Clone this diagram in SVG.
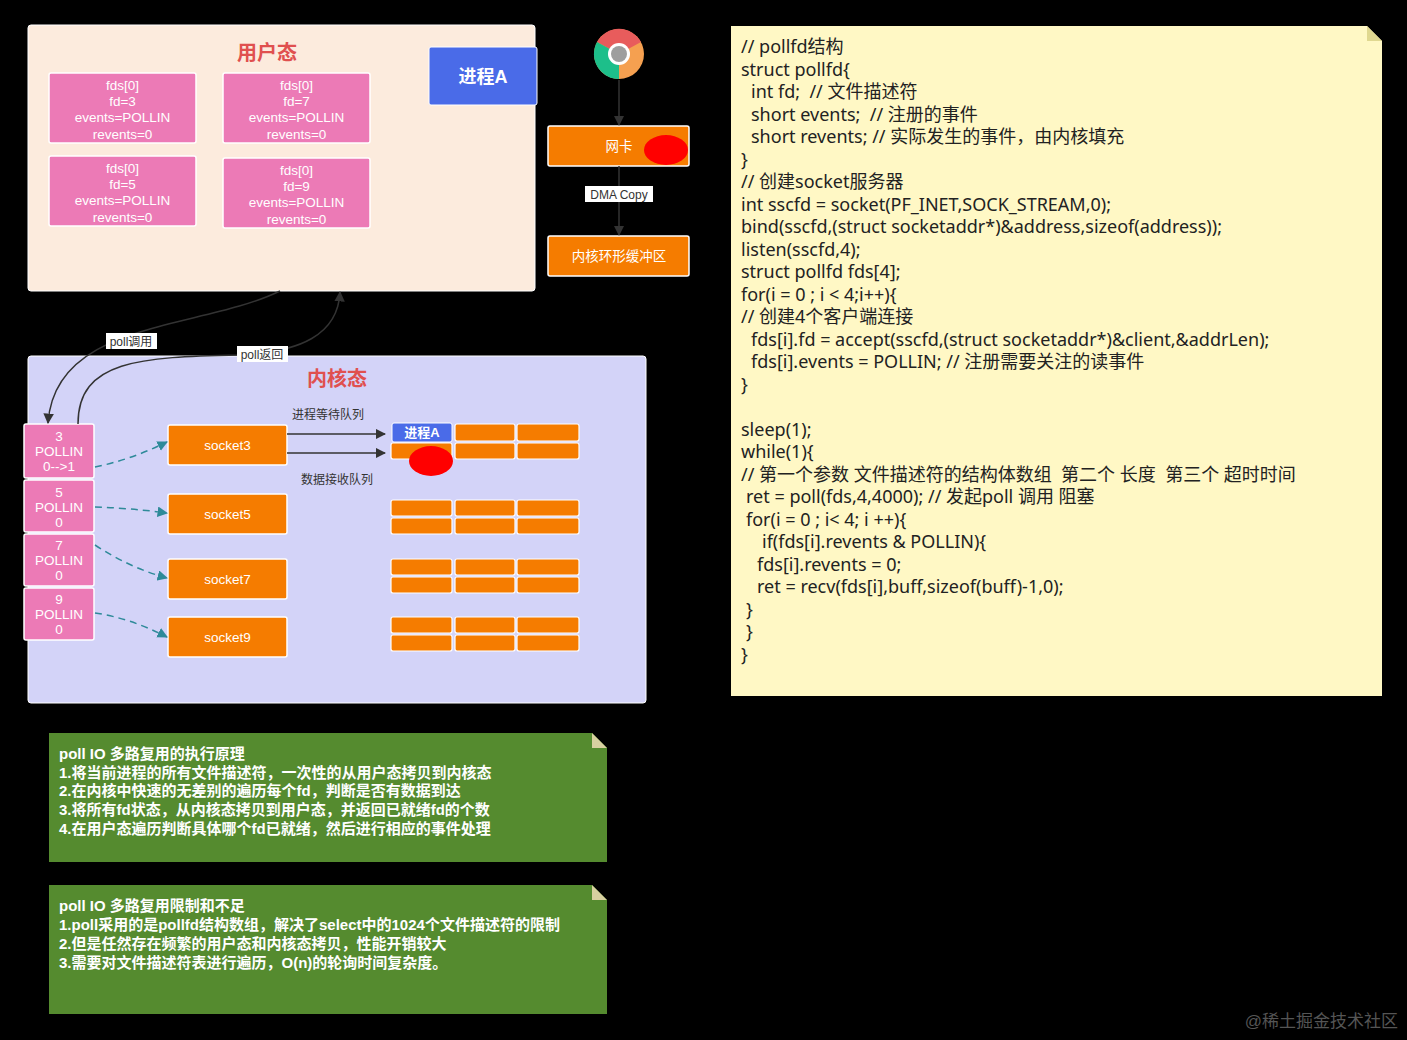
<svg xmlns="http://www.w3.org/2000/svg" width="1407" height="1040" viewBox="0 0 1407 1040">
<defs>
<style>
text{font-family:"Liberation Sans","Noto Sans CJK SC",sans-serif}
.w{fill:#fff;font-size:13.5px;text-anchor:middle}
.pk{fill:#EC7AB6;stroke:#fff;stroke-width:1.5}
.or{fill:#F57C00;stroke:#fff;stroke-width:1.5}
.cell{fill:#F57C00;stroke:#fff;stroke-width:1.2}
.title{fill:#E0504F;font-size:20px;font-weight:bold;text-anchor:middle}
.lbl{fill:#333;font-size:12px;text-anchor:middle}
.code{fill:#222;font-size:18px;font-family:"Noto Sans","Noto Sans CJK SC",sans-serif;white-space:pre}
.note{fill:#fff;font-size:15px;font-weight:bold}
.dash{stroke:#2E8A99;stroke-width:1.5;stroke-dasharray:7 5;fill:none}
.ln{stroke:#333;stroke-width:1.5;fill:none}
</style>
<marker id="ar" viewBox="0 0 10 10" refX="9" refY="5" markerWidth="7" markerHeight="7" orient="auto"><path d="M0,0 L10,5 L0,10 z" fill="#333"/></marker>
<marker id="at" viewBox="0 0 10 10" refX="9" refY="5" markerWidth="7" markerHeight="7" orient="auto"><path d="M0,0 L10,5 L0,10 z" fill="#2E8A99"/></marker>
</defs>
<rect width="1407" height="1040" fill="#000"/>

<g id="user">
<rect x="28" y="25" width="507" height="266" rx="3" fill="#FCEBDD" stroke="#fff"/>
<text x="267" y="60" class="title">用户态</text>
</g>
<g id="fd3"><rect x="49" y="73" width="147" height="70" rx="2" class="pk"/><text class="w" x="122.5" y="90">fds[0]</text><text class="w" x="122.5" y="106">fd=3</text><text class="w" x="122.5" y="122">events=POLLIN</text><text class="w" x="122.5" y="139">revents=0</text></g>
<g id="fd7"><rect x="223" y="73" width="147" height="70" rx="2" class="pk"/><text class="w" x="296.5" y="90">fds[0]</text><text class="w" x="296.5" y="106">fd=7</text><text class="w" x="296.5" y="122">events=POLLIN</text><text class="w" x="296.5" y="139">revents=0</text></g>
<g id="fd5"><rect x="49" y="156" width="147" height="70" rx="2" class="pk"/><text class="w" x="122.5" y="173">fds[0]</text><text class="w" x="122.5" y="189">fd=5</text><text class="w" x="122.5" y="205">events=POLLIN</text><text class="w" x="122.5" y="222">revents=0</text></g>
<g id="fd9"><rect x="223" y="158" width="147" height="70" rx="2" class="pk"/><text class="w" x="296.5" y="175">fds[0]</text><text class="w" x="296.5" y="191">fd=9</text><text class="w" x="296.5" y="207">events=POLLIN</text><text class="w" x="296.5" y="224">revents=0</text></g>
<g id="procA"><rect x="429" y="47" width="108" height="58" rx="2" fill="#4A6BE8" stroke="#fff"/><text x="483" y="83" fill="#fff" font-size="18" font-weight="bold" text-anchor="middle">进程A</text></g>

<g id="chrome">
<circle cx="619" cy="54" r="25" fill="#F5A050"/>
<path d="M619,54 L597,42 A25,25 0 0 1 641,42 Z" fill="#E85C5C"/>
<path d="M619,54 L597,42 A25,25 0 0 0 619,79 Z" fill="#1DBF8A"/>
<circle cx="619" cy="54" r="11" fill="#fff"/>
<circle cx="619" cy="54" r="8" fill="#9E9E9E"/>
</g>
<g id="nic"><rect x="548" y="126" width="141" height="40" rx="2" class="or"/><text class="w" x="619" y="151">网卡</text><ellipse cx="666" cy="150" rx="22" ry="15" fill="#F00"/></g>
<g id="ring"><rect x="548" y="236" width="141" height="40" rx="2" class="or"/><text class="w" x="619" y="261">内核环形缓冲区</text></g>

<g id="kernel">
<rect x="28" y="356" width="618" height="347" rx="3" fill="#D3D3F8" stroke="#fff"/>
<text x="337" y="386" class="title">内核态</text>
<text x="328" y="419" class="lbl">进程等待队列</text>
<text x="337" y="484" class="lbl">数据接收队列</text>
</g>
<g id="k3"><rect x="24" y="424" width="70" height="54" rx="2" class="pk"/><text class="w" x="59" y="441" font-size="12">3</text><text class="w" x="59" y="456" font-size="12">POLLIN</text><text class="w" x="59" y="471" font-size="12">0--&gt;1</text></g>
<g id="k5"><rect x="24" y="480" width="70" height="52" rx="2" class="pk"/><text class="w" x="59" y="497" font-size="12">5</text><text class="w" x="59" y="512" font-size="12">POLLIN</text><text class="w" x="59" y="527" font-size="12">0</text></g>
<g id="k7"><rect x="24" y="534" width="70" height="52" rx="2" class="pk"/><text class="w" x="59" y="550" font-size="12">7</text><text class="w" x="59" y="565" font-size="12">POLLIN</text><text class="w" x="59" y="580" font-size="12">0</text></g>
<g id="k9"><rect x="24" y="588" width="70" height="52" rx="2" class="pk"/><text class="w" x="59" y="604" font-size="12">9</text><text class="w" x="59" y="619" font-size="12">POLLIN</text><text class="w" x="59" y="634" font-size="12">0</text></g>
<g id="s3"><rect x="168" y="425" width="119" height="40" rx="2" class="or"/><text class="w" x="227.5" y="450">socket3</text></g>
<g id="s5"><rect x="168" y="494" width="119" height="40" rx="2" class="or"/><text class="w" x="227.5" y="519">socket5</text></g>
<g id="s7"><rect x="168" y="559" width="119" height="40" rx="2" class="or"/><text class="w" x="227.5" y="584">socket7</text></g>
<g id="s9"><rect x="168" y="617" width="119" height="40" rx="2" class="or"/><text class="w" x="227.5" y="642">socket9</text></g>

<g id="queues">
<rect x="391" y="443" width="61" height="16" rx="2" class="cell"/>
<rect x="455" y="424" width="60" height="17" rx="2" class="cell"/><rect x="517" y="424" width="62" height="17" rx="2" class="cell"/>
<rect x="455" y="443" width="60" height="16" rx="2" class="cell"/><rect x="517" y="443" width="62" height="16" rx="2" class="cell"/>
<rect x="391" y="500" width="61" height="16" rx="2" class="cell"/><rect x="455" y="500" width="60" height="16" rx="2" class="cell"/><rect x="517" y="500" width="62" height="16" rx="2" class="cell"/>
<rect x="391" y="518" width="61" height="16" rx="2" class="cell"/><rect x="455" y="518" width="60" height="16" rx="2" class="cell"/><rect x="517" y="518" width="62" height="16" rx="2" class="cell"/>
<rect x="391" y="559" width="61" height="16" rx="2" class="cell"/><rect x="455" y="559" width="60" height="16" rx="2" class="cell"/><rect x="517" y="559" width="62" height="16" rx="2" class="cell"/>
<rect x="391" y="577" width="61" height="16" rx="2" class="cell"/><rect x="455" y="577" width="60" height="16" rx="2" class="cell"/><rect x="517" y="577" width="62" height="16" rx="2" class="cell"/>
<rect x="391" y="617" width="61" height="16" rx="2" class="cell"/><rect x="455" y="617" width="60" height="16" rx="2" class="cell"/><rect x="517" y="617" width="62" height="16" rx="2" class="cell"/>
<rect x="391" y="635" width="61" height="16" rx="2" class="cell"/><rect x="455" y="635" width="60" height="16" rx="2" class="cell"/><rect x="517" y="635" width="62" height="16" rx="2" class="cell"/>
</g>
<g id="procA2"><rect x="392" y="423" width="60" height="19" rx="2" fill="#4A6BE8" stroke="#fff"/><text x="422" y="437" fill="#fff" font-size="13" font-weight="bold" text-anchor="middle">进程A</text><ellipse cx="431" cy="461" rx="22" ry="15" fill="#F00"/></g>

<g id="connectors">
<line x1="619" y1="80" x2="619" y2="125" class="ln" marker-end="url(#ar)"/>
<line x1="619" y1="166" x2="619" y2="235" class="ln" marker-end="url(#ar)"/>
<rect x="585" y="186" width="68" height="16" fill="#fff"/><text x="619" y="199" class="lbl" fill="#222" font-size="13">DMA Copy</text>
<line x1="287" y1="434" x2="385" y2="434" class="ln" marker-end="url(#ar)"/>
<line x1="287" y1="453" x2="385" y2="453" class="ln" marker-end="url(#ar)"/>
<path d="M95,467 Q130,460 167,442" class="dash" marker-end="url(#at)"/>
<path d="M95,507 Q130,508 167,513" class="dash" marker-end="url(#at)"/>
<path d="M95,545 Q130,568 167,578" class="dash" marker-end="url(#at)"/>
<path d="M95,613 Q130,618 167,637" class="dash" marker-end="url(#at)"/>
<path d="M280,291 C200,330 55,320 48,423" class="ln" marker-end="url(#ar)"/>
<path d="M78,424 C78,360 140,357 240,355 C300,352 338,335 340,292" class="ln" marker-end="url(#ar)"/>
<rect x="106" y="333" width="51" height="16" fill="#fff"/><text x="131" y="346" class="lbl" fill="#222" font-size="13">poll调用</text>
<rect x="237" y="346" width="51" height="16" fill="#fff"/><text x="262" y="359" class="lbl" fill="#222" font-size="13">poll返回</text>
</g>

<g id="code">
<path d="M731,26 H1367 L1382,41 V696 H731 Z" fill="#FFF8C5"/>
<path d="M1367,26 V41 H1382 Z" fill="#E0D890"/>
<text class="code" x="741" y="53">// pollfd结构</text>
<text class="code" x="741" y="76">struct pollfd{</text>
<text class="code" x="751" y="98">int fd;  // 文件描述符</text>
<text class="code" x="751" y="121">short events;  // 注册的事件</text>
<text class="code" x="751" y="143">short revents; // 实际发生的事件，由内核填充</text>
<text class="code" x="741" y="166">}</text>
<text class="code" x="741" y="188">// 创建socket服务器</text>
<text class="code" x="741" y="211">int sscfd = socket(PF_INET,SOCK_STREAM,0);</text>
<text class="code" x="741" y="233">bind(sscfd,(struct socketaddr*)&amp;address,sizeof(address));</text>
<text class="code" x="741" y="256">listen(sscfd,4);</text>
<text class="code" x="741" y="278">struct pollfd fds[4];</text>
<text class="code" x="741" y="301">for(i = 0 ; i &lt; 4;i++){</text>
<text class="code" x="741" y="323">// 创建4个客户端连接</text>
<text class="code" x="751" y="346">fds[i].fd = accept(sscfd,(struct socketaddr*)&amp;client,&amp;addrLen);</text>
<text class="code" x="751" y="368">fds[i].events = POLLIN; // 注册需要关注的读事件</text>
<text class="code" x="741" y="391">}</text>
<text class="code" x="741" y="436">sleep(1);</text>
<text class="code" x="741" y="458">while(1){</text>
<text class="code" x="741" y="481">// 第一个参数 文件描述符的结构体数组  第二个 长度  第三个 超时时间</text>
<text class="code" x="746" y="503">ret = poll(fds,4,4000); // 发起poll 调用 阻塞</text>
<text class="code" x="746" y="526">for(i = 0 ; i&lt; 4; i ++){</text>
<text class="code" x="762" y="548">if(fds[i].revents &amp; POLLIN){</text>
<text class="code" x="757" y="571">fds[i].revents = 0;</text>
<text class="code" x="757" y="593">ret = recv(fds[i],buff,sizeof(buff)-1,0);</text>
<text class="code" x="746" y="616">}</text>
<text class="code" x="746" y="638">}</text>
<text class="code" x="741" y="661">}</text>
</g>

<g id="note1">
<path d="M49,733 H592 L607,748 V862 H49 Z" fill="#558B2F"/>
<path d="M592,733 V748 H607 Z" fill="#D8D0A0"/>
<text class="note" x="59" y="759">poll IO 多路复用的执行原理</text>
<text class="note" x="59" y="778">1.将当前进程的所有文件描述符，一次性的从用户态拷贝到内核态</text>
<text class="note" x="59" y="796">2.在内核中快速的无差别的遍历每个fd，判断是否有数据到达</text>
<text class="note" x="59" y="815">3.将所有fd状态，从内核态拷贝到用户态，并返回已就绪fd的个数</text>
<text class="note" x="59" y="834">4.在用户态遍历判断具体哪个fd已就绪，然后进行相应的事件处理</text>
</g>
<g id="note2">
<path d="M49,885 H592 L607,900 V1014 H49 Z" fill="#558B2F"/>
<path d="M592,885 V900 H607 Z" fill="#D8D0A0"/>
<text class="note" x="59" y="911">poll IO 多路复用限制和不足</text>
<text class="note" x="59" y="930">1.poll采用的是pollfd结构数组，解决了select中的1024个文件描述符的限制</text>
<text class="note" x="59" y="949">2.但是任然存在频繁的用户态和内核态拷贝，性能开销较大</text>
<text class="note" x="59" y="968">3.需要对文件描述符表进行遍历，O(n)的轮询时间复杂度。</text>
</g>
<text x="1398" y="1027" fill="#555" font-size="17" text-anchor="end">@稀土掘金技术社区</text>
</svg>
